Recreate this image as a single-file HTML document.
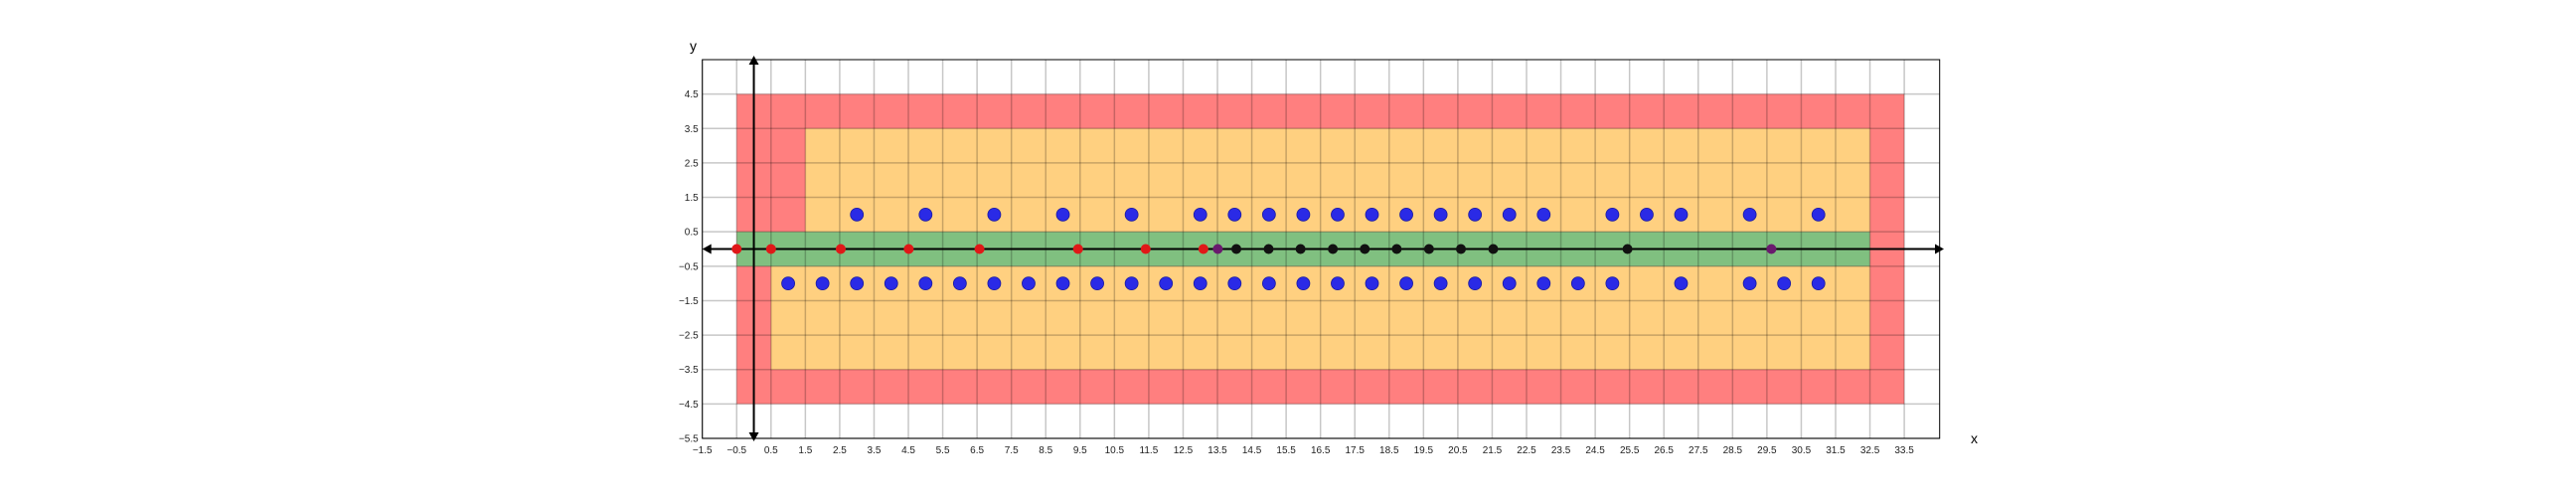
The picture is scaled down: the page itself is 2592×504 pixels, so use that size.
<!DOCTYPE html>
<html><head><meta charset="utf-8"><style>
html,body{margin:0;padding:0;background:#fff;}
svg{display:block;font-family:"Liberation Sans","DejaVu Sans",sans-serif;}
</style></head><body>
<svg id="chart" width="2592" height="504" viewBox="0 0 2592 504" xmlns="http://www.w3.org/2000/svg">
<g id="zones"></g>
<g id="grid"></g>
<g id="axes"></g>
<g id="points"></g>
<g id="ticks"></g>
<text x="694" y="51" font-size="14">y</text>
<text x="1983" y="446" font-size="14">x</text>
</svg>
<script>
const xTicks = [-1.5,-0.5,0.5,1.5,2.5,3.5,4.5,5.5,6.5,7.5,8.5,9.5,10.5,11.5,12.5,13.5,14.5,15.5,16.5,17.5,18.5,19.5,20.5,21.5,22.5,23.5,24.5,25.5,26.5,27.5,28.5,29.5,30.5,31.5,32.5,33.5];
const yTicks = [4.5,3.5,2.5,1.5,0.5,-0.5,-1.5,-2.5,-3.5,-4.5,-5.5];
const blueTopX = [3,5,7,9,11,13,14,15,16,17,18,19,20,21,22,23,25,26,27,29,31];
const blueBottomX = [1,2,3,4,5,6,7,8,9,10,11,12,13,14,15,16,17,18,19,20,21,22,23,24,25,27,29,30,31];
const redX = [-0.5,0.5,2.53,4.51,6.57,9.44,11.41,13.09];
const blackX = [14.05,14.99,15.92,16.86,17.79,18.72,19.66,20.59,21.53,25.44];
const purpleX = [13.51,29.63];
const zoneRects = [
  {name:'red-zone',x0:-0.5,x1:33.5,y0:-4.5,y1:4.5,c:'rgba(255,0,0,0.5)'},
  {name:'orange-zone-top',x0:1.5,x1:32.5,y0:0.5,y1:3.5,c:'#ffd080'},
  {name:'orange-zone-bottom',x0:0.5,x1:32.5,y0:-3.5,y1:-0.5,c:'#ffd080'},
  {name:'green-zone',x0:-0.5,x1:32.5,y0:-0.5,y1:0.5,c:'#80c080'}
];
const L=706.7, R=1951.7, T=60, B=441;
const xmin=-1.5, xmax=34.53, ymin=-5.5, ymax=5.5;
const sx=v=>L+(v-xmin)*(R-L)/(xmax-xmin);
const sy=v=>B-(v-ymin)*(B-T)/(ymax-ymin);
const NS='http://www.w3.org/2000/svg';
function mk(tag,attrs,parent){const e=document.createElementNS(NS,tag);for(const k in attrs)e.setAttribute(k,attrs[k]);parent.appendChild(e);return e;}
const zones=document.getElementById('zones'),grid=document.getElementById('grid'),axes=document.getElementById('axes'),pts=document.getElementById('points'),ticks=document.getElementById('ticks');
zoneRects.forEach(z=>{
  const r=mk('rect',{x:sx(z.x0),y:sy(z.y1),width:sx(z.x1)-sx(z.x0),height:sy(z.y0)-sy(z.y1),fill:z.c},zones);
  
  
});
xTicks.forEach(v=>{
  const l=mk('line',{x1:sx(v),x2:sx(v),y1:T,y2:B,stroke:'rgba(0,0,0,0.22)','stroke-width':1.5},grid);
  
  
  const t=mk('text',{x:sx(v),y:B+15,'font-size':10,'text-anchor':'middle',fill:'#222'},ticks);
  t.textContent=String(v).replace('-','\u2212');
  
  
});
yTicks.forEach(v=>{
  const l=mk('line',{x1:L,x2:R,y1:sy(v),y2:sy(v),stroke:'rgba(0,0,0,0.22)','stroke-width':1.5},grid);
  
  
  const t=mk('text',{x:L-4,y:sy(v)+3.5,'font-size':10,'text-anchor':'end',fill:'#222'},ticks);
  t.textContent=String(v).replace('-','\u2212');
  
  
});
const frame=mk('rect',{x:L,y:T,width:R-L,height:B-T,fill:'none',stroke:'#000','stroke-width':1},axes);


const y0=sy(0), x0=sx(0);
const hl=mk('line',{x1:L+6,x2:1948,y1:y0,y2:y0,stroke:'#000','stroke-width':2},axes);


const vl=mk('line',{x1:x0,x2:x0,y1:T+2,y2:B-2,stroke:'#000','stroke-width':2},axes);


[[`${L} ${y0} ${L+9} ${y0-5} ${L+9} ${y0+5}`,'x-arrowhead-left'],[`1956 ${y0} 1947 ${y0-5} 1947 ${y0+5}`,'x-arrowhead-right'],[`${x0} 56 ${x0-5} 65 ${x0+5} 65`,'y-arrowhead-top'],[`${x0} 444 ${x0-5} 435 ${x0+5} 435`,'y-arrowhead-bottom']].forEach(a=>{
  const p=mk('polygon',{points:a[0],fill:'#000'},axes);
  
  
});
blueTopX.forEach(v=>{
  const c=mk('circle',{cx:sx(v),cy:sy(1),r:6.5,fill:'#2a2ae6',stroke:'#1a1aa0','stroke-width':0.8},pts);
  
  
});
blueBottomX.forEach(v=>{
  const c=mk('circle',{cx:sx(v),cy:sy(-1),r:6.5,fill:'#2a2ae6',stroke:'#1a1aa0','stroke-width':0.8},pts);
  
  
});
redX.forEach(v=>{
  const c=mk('circle',{cx:sx(v),cy:y0,r:5,fill:'#e01818'},pts);
  
  
});
blackX.forEach(v=>{
  const c=mk('circle',{cx:sx(v),cy:y0,r:5,fill:'#111'},pts);
  
  
});
purpleX.forEach(v=>{
  const c=mk('circle',{cx:sx(v),cy:y0,r:5,fill:'#6a1a6e'},pts);
  
  
});
</script>
</body></html>
